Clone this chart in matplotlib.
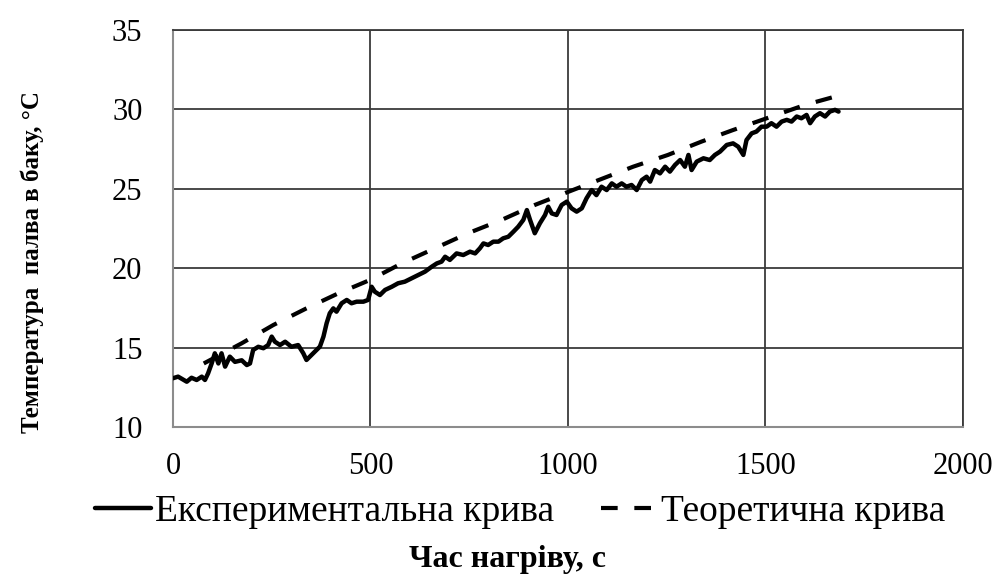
import matplotlib
matplotlib.use("Agg")
import matplotlib.pyplot as plt

plt.rcParams["font.family"] = ["Liberation Serif", "DejaVu Serif"]

exp_t = [0, 13, 35, 47, 60, 73, 81, 89, 98, 106, 115, 123, 132, 144, 157, 174, 187,
         195, 203, 216, 229, 241, 250, 258, 271, 284, 300, 317, 330, 338, 355, 372,
         381, 389, 397, 406, 414, 427, 440, 452, 465, 482, 494, 503, 511, 524, 537,
         554, 570, 587, 604, 621, 638, 655, 668, 680, 689, 701, 718, 735, 752, 765,
         777, 786, 798, 811, 824, 836, 849, 862, 874, 887, 896, 904, 916, 929, 942,
         950, 959, 971, 984, 997, 1009, 1022, 1035, 1047, 1060, 1072, 1085, 1098,
         1111, 1123, 1136, 1148, 1161, 1174, 1187, 1199, 1208, 1220, 1233, 1246,
         1258, 1271, 1284, 1296, 1305, 1313, 1326, 1343, 1359, 1372, 1385, 1402,
         1418, 1431, 1444, 1452, 1465, 1477, 1490, 1503, 1515, 1528, 1541, 1554,
         1566, 1579, 1591, 1604, 1613, 1625, 1638, 1651, 1663, 1676, 1685]
exp_temp = [13.07, 13.17, 12.85, 13.1, 12.96, 13.17, 12.96, 13.38, 14.0, 14.64, 14.0,
            14.64, 13.8, 14.43, 14.1, 14.2, 13.9, 14.0, 14.85, 15.05, 14.96, 15.16,
            15.69, 15.37, 15.16, 15.37, 15.05, 15.16, 14.64, 14.22, 14.64, 15.06,
            15.69, 16.53, 17.16, 17.47, 17.26, 17.79, 18.0, 17.79, 17.89, 17.89, 18.0,
            18.83, 18.52, 18.31, 18.63, 18.83, 19.05, 19.15, 19.36, 19.57, 19.78,
            20.09, 20.3, 20.41, 20.72, 20.52, 20.93, 20.83, 21.04, 20.93, 21.25,
            21.56, 21.46, 21.67, 21.67, 21.88, 21.98, 22.3, 22.61, 23.04, 23.66,
            23.04, 22.2, 22.83, 23.35, 23.87, 23.45, 23.35, 23.98, 24.19, 23.77,
            23.56, 23.77, 24.4, 24.92, 24.6, 25.13, 24.92, 25.34, 25.13, 25.34,
            25.13, 25.24, 24.92, 25.55, 25.76, 25.45, 26.18, 25.97, 26.39, 26.08,
            26.5, 26.81, 26.39, 27.13, 26.18, 26.71, 26.92, 26.81, 27.13, 27.34,
            27.76, 27.86, 27.65, 27.13, 28.07, 28.49, 28.6, 28.91, 28.91, 29.13,
            28.91, 29.23, 29.34, 29.23, 29.55, 29.44, 29.65, 29.13, 29.55, 29.76,
            29.55, 29.86, 29.97, 29.86]

# theoretical curve
theo_t = [78, 174, 254, 338, 419, 499, 579, 747, 832, 916, 1000, 1165, 1253, 1338,
          1418, 1600, 1690]
theo_temp = [14.0, 15.27, 16.42, 17.47, 18.42, 19.26, 20.3, 22.2, 23.04, 23.98, 24.8,
             26.39, 27.13, 27.97, 28.7, 30.28, 30.9]

x_ticks = [0, 500, 1000, 1500, 2000]
y_ticks = [10, 15, 20, 25, 30, 35]

fig = plt.figure(figsize=(9.98, 5.83), dpi=100)
ax = fig.add_axes([0.1733, 0.2676, 0.7916, 0.681])

ax.plot(exp_t, exp_temp, color="black", lw=3.2, solid_joinstyle="round",
        solid_capstyle="round", label="Експериментальна крива", zorder=3)
ax.plot(theo_t, theo_temp, color="black", lw=3.0, dashes=(4, 4),
        label="Теоретична крива", zorder=3)

ax.set_xlim(0, 2000)
ax.set_ylim(10, 35)
ax.set_xticks(x_ticks)
ax.set_yticks(y_ticks)
ax.tick_params(length=0, labelsize=22)
ax.tick_params(axis="y", pad=22)
ax.tick_params(axis="x", pad=18)
ax.grid(True, color="#3a3a3a", lw=1.3)
for side in ["top", "right"]:
    ax.spines[side].set_color("#3a3a3a")
    ax.spines[side].set_linewidth(1.3)
for side in ["left", "bottom"]:
    ax.spines[side].set_color("#8c8c8c")
    ax.spines[side].set_linewidth(1.5)

fig.text(0.032, 0.55, "Температура  палва в баку, °С", rotation=90, ha="center",
         va="center", fontsize=18, fontweight="bold")
fig.text(0.509, 0.04, "Час нагріву, с", ha="center", va="center", fontsize=23,
         fontweight="bold")

fig.legend(loc="center", bbox_to_anchor=(0.521, 0.122), ncol=2, frameon=False,
           fontsize=27, handlelength=1.5, columnspacing=1.25, handletextpad=0.1)

fig.savefig("out.png", dpi=100)
